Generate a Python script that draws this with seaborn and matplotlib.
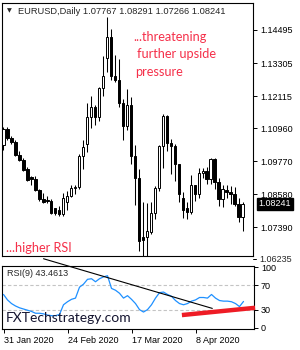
import numpy as np
import pandas as pd
import matplotlib
matplotlib.use("Agg")
import matplotlib.pyplot as plt
import matplotlib.transforms as mtransforms
import seaborn as sns

# ---------------- data ----------------
dates = pd.bdate_range("2020-01-31", "2020-04-24")

opens = [1.1035, 1.1094, 1.1062, 1.1046, 1.1000, 1.0982, 1.0950, 1.0919, 1.0913, 1.0873,
         1.0840, 1.0836, 1.0834, 1.0808, 1.0803, 1.0786, 1.0830, 1.0852, 1.0881, 1.0883,
         1.0994, 1.1040, 1.1135, 1.1173, 1.1136, 1.1240, 1.1349, 1.1423, 1.1284, 1.1270,
         1.1188, 1.1105, 1.1180, 1.0996, 1.0917, 1.0705, 1.0705, 1.0723, 1.0792, 1.0880,
         1.1030, 1.1140, 1.1043, 1.1031, 1.0966, 1.0845, 1.0810, 1.0795, 1.0892, 1.0858,
         1.0934, 1.0942, 1.0914, 1.0986, 1.0903, 1.0841, 1.0875, 1.0865, 1.0858, 1.0823,
         1.07767]
highs = [1.1100, 1.1100, 1.1066, 1.1052, 1.1014, 1.0987, 1.0955, 1.0925, 1.0924, 1.0877,
         1.0862, 1.0851, 1.0840, 1.0810, 1.0814, 1.0863, 1.0870, 1.0890, 1.0892, 1.1003,
         1.1054, 1.1185, 1.1213, 1.1178, 1.1246, 1.1355, 1.1496, 1.1454, 1.1358, 1.1345,
         1.1201, 1.1237, 1.1209, 1.1037, 1.0950, 1.0831, 1.0827, 1.0829, 1.0886, 1.1034,
         1.1147, 1.1144, 1.1057, 1.1040, 1.0968, 1.0865, 1.0830, 1.0926, 1.0893, 1.0953,
         1.0951, 1.0955, 1.0990, 1.0990, 1.0915, 1.0890, 1.0892, 1.0887, 1.0885, 1.0845,
         1.08291]
lows = [1.1018, 1.1054, 1.1039, 1.0996, 1.0978, 1.0942, 1.0905, 1.0891, 1.0868, 1.0834,
        1.0827, 1.0826, 1.0788, 1.0783, 1.0778, 1.0778, 1.0801, 1.0847, 1.0858, 1.0876,
        1.0950, 1.1011, 1.1096, 1.1106, 1.1121, 1.1213, 1.1300, 1.1270, 1.1263, 1.1173,
        1.1055, 1.1091, 1.0967, 1.0820, 1.0654, 1.0636, 1.0636, 1.0715, 1.0768, 1.0870,
        1.0953, 1.1015, 1.0930, 1.0905, 1.0830, 1.0772, 1.0768, 1.0786, 1.0832, 1.0844,
        1.0917, 1.0895, 1.0896, 1.0877, 1.0815, 1.0813, 1.0845, 1.0823, 1.0815, 1.0757,
        1.07266]
closes = [1.1094, 1.1062, 1.1046, 1.1000, 1.0982, 1.0945, 1.0910, 1.0913, 1.0873, 1.0840,
          1.0831, 1.0834, 1.0792, 1.0790, 1.0786, 1.0846, 1.0852, 1.0881, 1.0883, 1.0994,
          1.1027, 1.1135, 1.1173, 1.1136, 1.1240, 1.1285, 1.1423, 1.1284, 1.1270, 1.1188,
          1.1105, 1.1180, 1.0996, 1.0917, 1.0691, 1.0692, 1.0726, 1.0790, 1.0880, 1.1030,
          1.1140, 1.1043, 1.1031, 1.0966, 1.0858, 1.0800, 1.0795, 1.0892, 1.0858, 1.0934,
          1.0940, 1.0914, 1.0986, 1.0903, 1.0841, 1.0877, 1.0865, 1.0858, 1.0823, 1.07767,
          1.08241]

rsi = [55, 46, 40, 36, 33, 31, 29, 27, 24, 24,
       23, 21, 20, 20, 22, 38, 43, 47, 49, 67,
       72, 80, 81, 76, 81, 84, 86, 65, 62, 57,
       49, 53, 47, 40, 30, 26, 30, 38, 49, 58,
       59, 55, 52, 45, 40, 38, 40, 44, 46, 50,
       50, 49, 55, 49, 45, 44, 44, 43, 40, 35,
       43.4613]

price_ticks = [1.14495, 1.13305, 1.12115, 1.10960, 1.09770, 1.08580, 1.07390]
price_tick_low = 1.06235
rsi_ticks = [100, 70, 30, 0]
rsi_levels = [70, 30]
date_tick_labels = ["31 Jan 2020", "24 Feb 2020", "17 Mar 2020", "8 Apr 2020"]
date_tick_dates = ["2020-01-31", "2020-02-24", "2020-03-17", "2020-04-08"]

# trend lines on RSI (candle index, RSI value)
res_x, res_y = [10.0, 52.2], [114.0, 32.0]
sup_x, sup_y = [44.6, 62.9], [21.0, 33.0]

header = "EURUSD,Daily 1.07767 1.08291 1.07266 1.08241"
last_price = 1.08241

# ---------------- style ----------------
sns.set_style("white")
plt.rcParams['font.family'] = ['Liberation Sans', 'DejaVu Sans']

W, H = 300, 350
fig = plt.figure(figsize=(W / 100, H / 100), dpi=100)
fig.patch.set_facecolor("white")


def frect(l, t, r, b):
    return [l / W, 1 - b / H, (r - l) / W, (b - t) / H]


ax = fig.add_axes(frect(2, 3, 253, 256))
axr = fig.add_axes(frect(2, 266, 254, 329))

o = np.array(opens); h = np.array(highs); l = np.array(lows); c = np.array(closes)
x = np.arange(len(dates))
up = c >= o

ax.vlines(x, l, h, color="black", lw=0.75, zorder=2)
body_bottom = np.minimum(o, c)
body_h = np.maximum(np.abs(c - o), 0.00010)
ax.bar(x, body_h, bottom=body_bottom, width=0.6,
       color=np.where(up, "white", "black"), edgecolor="black",
       linewidth=0.7, zorder=3)

xlim = (-0.375, 62.625)
ax.set_xlim(*xlim)
ax.set_ylim(1.06357, 1.15467)
ax.set_xticks([])
ax.yaxis.tick_right()
ax.set_yticks(price_ticks)
ax.set_yticklabels([f"{v:.5f}" for v in price_ticks])
ax.tick_params(axis="y", right=True, length=3, width=0.7, pad=2,
               labelsize=6.5, colors="black")
for s in ax.spines.values():
    s.set_color("black")
    s.set_linewidth(0.8)

# lowest price label (below the panel frame)
tr = mtransforms.blended_transform_factory(ax.transAxes, ax.transData)
ax.plot([1.0, 1.012], [price_tick_low, price_tick_low], color="black",
        lw=0.7, transform=tr, clip_on=False)
ax.text(1.024, price_tick_low, f"{price_tick_low:.5f}", transform=tr,
        fontsize=6.5, va="center", ha="left", clip_on=False)

# current price box
ax.text(1.022, last_price, f"{last_price:.5f}", transform=tr, fontsize=6.5,
        color="white", va="center", ha="left",
        bbox=dict(boxstyle="square,pad=0.18", fc="black", ec="black"))

# ---------------- RSI ----------------
for lv in rsi_levels:
    axr.axhline(lv, color="#c4c4c4", lw=0.8, ls=(0, (3, 2)), zorder=1)
sns.lineplot(x=x, y=rsi, ax=axr, color="#1e90ff", lw=0.9, zorder=3)
axr.plot(res_x, res_y, color="black", lw=0.8, clip_on=False, zorder=4)
axr.plot(sup_x, sup_y, color="#ee1c25", lw=3.2, solid_capstyle="butt",
         clip_on=False, zorder=5)

axr.set_xlim(*xlim)
axr.set_ylim(-2, 102)
axr.yaxis.tick_right()
axr.set_yticks(rsi_ticks)
axr.set_yticklabels([str(v) for v in rsi_ticks])
axr.tick_params(axis="y", right=True, length=3, width=0.7, pad=2,
                labelsize=6.5, colors="black")
pos = [dates.get_loc(pd.Timestamp(d)) for d in date_tick_dates]
axr.set_xticks(pos)
axr.set_xticklabels(date_tick_labels, ha="left")
axr.tick_params(axis="x", bottom=True, length=3, width=0.7, pad=2,
                labelsize=6.5, colors="black")
for s in axr.spines.values():
    s.set_color("black")
    s.set_linewidth(0.8)
axr.set_xlabel("")
axr.set_ylabel("")

# ---------------- texts ----------------
red = "#f5304a"


def ftext(px, py, s, **kw):
    fig.text(px / W, 1 - py / H, s, va="center", ha="left", **kw)


ftext(7, 10.5, "\u25BC", fontsize=4.5, family=["DejaVu Sans"])
ftext(18, 11, header, fontsize=6.7)
ftext(133, 37, "...threatening", fontsize=9.2, color=red, family=["Lato"])
ftext(137, 54.5, "further upside", fontsize=9.2, color=red, family=["Lato"])
ftext(135, 72, "pressure", fontsize=9.2, color=red, family=["Lato"])
ftext(6, 248, "...higher RSI", fontsize=9.2, color=red, family=["Lato"])
ftext(7, 274, "RSI(9) 43.4613", fontsize=6.5)
ftext(6, 318, "FXTechstrategy.com", fontsize=10, color="#151530", family=["Lato"])

fig.savefig("out.png", dpi=100)
